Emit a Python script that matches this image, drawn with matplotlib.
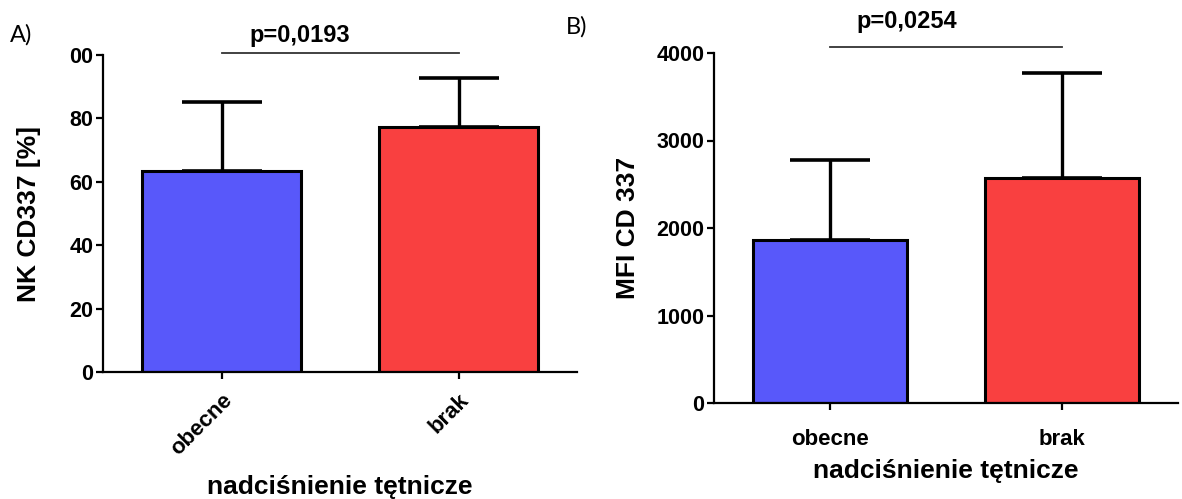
import matplotlib
matplotlib.use("Agg")
import matplotlib.pyplot as plt

# ---- data ----
categories = ["obecne", "brak"]
nk_means = [63.3, 77.4]
nk_err = [22.0, 15.3]
mfi_means = [1862, 2570]
mfi_err = [915, 1200]
nk_ticks = [0, 20, 40, 60, 80, 100]
nk_ticklabels = ["0", "20", "40", "60", "80", "00"]
mfi_ticks = [0, 1000, 2000, 3000, 4000]
mfi_ticklabels = ["0", "1000", "2000", "3000", "4000"]
p_texts = ["p=0,0193", "p=0,0254"]
xlabel = "nadciśnienie tętnicze"
ylabels = ["NK CD337 [%]", "MFI CD 337"]
colors = ["#5858FA", "#F94040"]

plt.rcParams['font.family'] = ['Liberation Sans', 'DejaVu Sans']

fig = plt.figure(figsize=(11.82, 4.99), dpi=100)
axA = fig.add_axes([103/1182, 1-372/499, (577-103)/1182, (372-55)/499])
axB = fig.add_axes([714/1182, 1-403/499, (1178-714)/1182, (403-53)/499])


def draw(ax, means, errs, ticks, ticklabels, ylim, ylabel, ptext, pline_y, ptext_y, rot):
    x = list(range(len(categories)))
    ax.bar(x, means, width=0.667, color=colors, edgecolor='black', linewidth=2.2, zorder=2)
    ax.errorbar(x, means, yerr=[[0]*len(errs), errs], fmt='none', ecolor='black',
                elinewidth=2.4, capsize=29, capthick=2.6, zorder=1)
    ax.set_xlim(-0.5, 1.5)
    ax.set_ylim(ylim)
    ax.set_yticks(ticks)
    ax.set_yticklabels(ticklabels, fontsize=15.5, fontweight='bold')
    ax.set_xticks(x)
    if rot:
        ax.set_xticklabels(categories, fontsize=16, fontweight='bold', rotation=45,
                           ha='right', rotation_mode='anchor')
    else:
        ax.set_xticklabels(categories, fontsize=16, fontweight='bold')
    for s in ['top', 'right']:
        ax.spines[s].set_visible(False)
    for s in ['left', 'bottom']:
        ax.spines[s].set_linewidth(1.6)
    ax.tick_params(axis='both', width=1.6, length=5, direction='out', pad=2)
    ax.set_ylabel(ylabel, fontsize=19, fontweight='bold')
    ax.set_xlabel(xlabel, fontsize=19, fontweight='bold')
    ax.plot([0, 1], [pline_y, pline_y], color='#333333', lw=1.3, clip_on=False)
    ax.text(0.33, ptext_y, ptext, ha='center', va='center', fontsize=17, fontweight='bold',
            family=['Liberation Sans Narrow', 'Liberation Sans'])

draw(axA, nk_means, nk_err, nk_ticks, nk_ticklabels, (0, 100), ylabels[0], p_texts[0],
     100.6, 106.0, True)
draw(axB, mfi_means, mfi_err, mfi_ticks, mfi_ticklabels, (0, 4000), ylabels[1], p_texts[1],
     4068, 4360, False)

axA.tick_params(axis='x', pad=8)
axB.tick_params(axis='x', pad=14)

axA.yaxis.set_label_coords(-0.13, 0.5)
axA.xaxis.set_label_coords(0.5, -0.325)
axB.yaxis.set_label_coords(-0.16, 0.5)
axB.xaxis.set_label_coords(0.5, -0.16)

fig.text(10/1182, 1-35/499, "A)", fontsize=17, va='center', ha='left', family=['Lato', 'DejaVu Sans'])
fig.text(566/1182, 1-27/499, "B)", fontsize=17, va='center', ha='left', family=['Lato', 'DejaVu Sans'])

fig.savefig("out.png", dpi=100)
